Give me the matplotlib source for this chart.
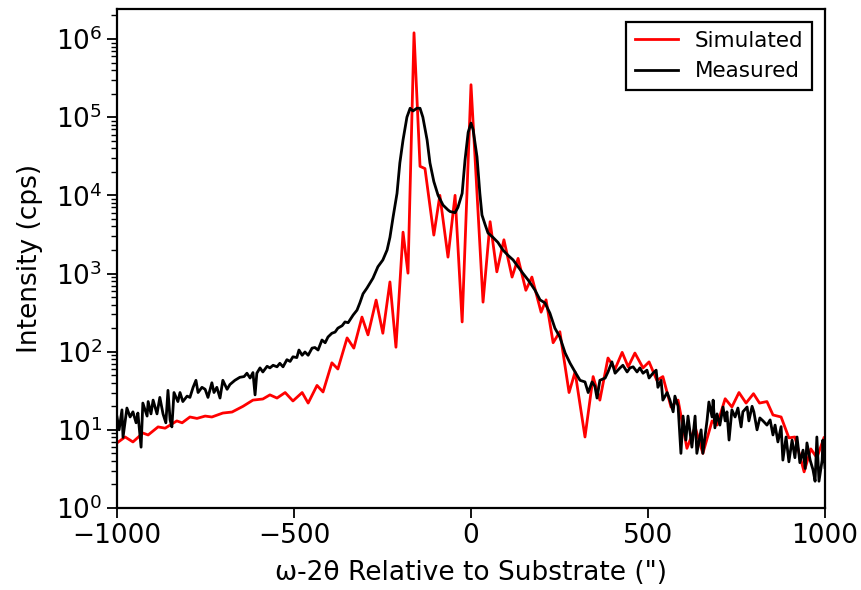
import matplotlib
matplotlib.use("Agg")
import matplotlib.pyplot as plt

# Simulated curve (arcsec, cps)
sim_x = [-1000, -977, -955, -927, -912, -884, -864, -831, -816, -794, -774,
         -751, -732, -701, -675, -644, -616, -588, -568, -548, -525, -503,
         -477, -460, -435, -418, -393, -376, -350, -331, -308, -291, -268,
         -249, -229, -212, -192, -178, -161, -144, -130, -105, -88, -65, -45,
         -25, 0, 34, 54, 73, 93, 116, 133, 155, 172, 198, 212, 232, 251, 277,
         294, 322, 345, 364, 387, 407, 427, 444, 463, 486, 503, 525, 542, 565,
         585, 610, 633, 655, 681, 695, 718, 737, 757, 777, 798, 815, 836, 853,
         876, 898, 915, 941, 960, 977, 997]
sim_y = [6.8, 8.1, 7.0, 9.1, 8.6, 10.9, 10.5, 13, 12.3, 14.6, 14,
         15, 14.6, 16.4, 16.9, 20, 24, 24.8, 28, 25.5, 30, 23.4,
         30, 22, 37, 30.5, 72, 60, 150, 111, 277, 164, 457,
         172, 780, 114, 3380, 1010, 1.2e6, 23500, 22000, 3100, 10000, 1620, 10000,
         240, 2.6e5, 430, 4600, 1050, 2700, 900, 1560, 610, 900, 320, 460, 130, 180, 30,
         55, 8.1, 48, 24, 83, 60, 98, 64, 96, 62, 74, 43, 48, 19.6,
         24, 5.8, 10.9, 5.0, 13, 11.5, 25, 19.6, 30, 22, 29, 22, 23, 15.5,
         14.6, 7.9, 8.1, 2.9, 5.7, 4.4, 7.9]

# Measured curve (arcsec, cps)
meas_x = [-1000, -994, -986, -983, -972, -963, -955, -946, -941, -932, -927,
          -915, -912, -904, -898, -887, -879, -870, -862, -856, -850, -845,
          -839, -828, -822, -814, -802, -794, -785, -777, -771, -760, -751,
          -743, -732, -726, -718, -709, -701, -689, -681, -667, -653, -641,
          -633, -624, -616, -610, -605, -596, -588, -576, -568, -559, -548,
          -540, -531, -520, -511, -503, -492, -486, -477, -469, -460, -449,
          -441, -432, -421, -412, -404, -393, -384, -376, -364, -356, -347,
          -333, -322, -314, -305, -294, -285, -277, -263, -249, -237, -229,
          -220, -209, -201, -192, -181, -172, -164, -153, -144, -136, -124,
          -116, -105, -93, -79, -65, -59, -45, -37, -25, -17, -8, 0, 6, 17,
          25, 31, 40, 48, 62, 76, 90, 105, 119, 133, 147, 161, 167, 181, 195,
          209, 223, 237, 251, 266, 280, 294, 308, 322, 331, 342, 350, 356,
          364, 379, 387, 398, 407, 415, 421, 429, 441, 449, 458, 469, 477,
          486, 497, 503, 514, 523, 528, 537, 542, 554, 562, 571, 576, 585,
          593, 599, 607, 613, 624, 633, 638, 650, 655, 667, 672, 681, 684,
          689, 695, 703, 712, 718, 723, 729, 737, 746, 754, 763, 768, 780,
          785, 794, 799, 808, 816, 825, 836, 845, 853, 859, 867, 876, 881,
          890, 898, 907, 915, 921, 929, 938, 944, 949, 958, 966, 972, 977,
          983, 992, 994, 1000]
meas_y = [14.6, 10, 18, 8, 19, 14.6, 17, 12.3, 16.4, 6.0, 22,
          15, 23, 16, 24, 16, 26, 16, 12.3, 32, 13.4, 10.9,
          30, 23, 30, 23, 27, 26, 35, 43, 30, 35, 33,
          26, 40, 30, 35, 25.5, 43, 33, 38, 43, 47, 48,
          53, 46, 54, 28, 53, 62, 55, 65, 62, 67, 64,
          71, 64, 79, 75, 86, 84, 105, 90, 99, 90, 111,
          113, 105, 141, 130, 154, 172, 178, 200, 215, 240, 235,
          294, 340, 420, 550, 650, 760, 870, 1220, 1490, 2000, 2900,
          5300, 10600, 26000, 51000, 1.0e5, 1.3e5, 1.2e5, 1.3e5, 1.3e5, 1.0e5, 51000,
          26000, 15000, 10000, 7500, 6500, 6200, 6000, 7000, 10600, 28000, 64000, 84000, 69000, 31000,
          10600, 5600, 4200, 3300, 2900, 2500, 2000, 1700, 1490, 1220, 1000, 830, 760, 610, 460,
          420, 310, 200, 154, 96, 71, 55, 43, 41, 30, 41, 36, 25.5,
          43, 46, 55, 74, 53, 58, 62, 67, 55, 62, 64, 55, 62,
          53, 58, 46, 53, 58, 35, 43, 24, 30, 24, 17, 27, 20,
          5.0, 15, 7.4, 15, 6.0, 15, 5.0, 10, 5.0, 13.4, 22.7, 14.6, 24,
          10.6, 16, 11.5, 19.6, 13, 17, 7.4, 18, 14.6, 19, 10.9, 17, 19.6,
          13, 20, 17, 10, 14.2, 13, 11.5, 13.4, 8.6, 11.5, 7.0, 11, 4.1,
          8.1, 3.9, 7.4, 4.4, 8.1, 3.8, 5.5, 3.2, 6.8, 4.1, 3.1, 2.2, 8.1,
          2.2, 4.1, 7.4, 3.3]

x_ticks = [-1000, -500, 0, 500, 1000]

fig = plt.figure(figsize=(8.61, 5.90), dpi=100)
ax = fig.add_axes([117 / 861, 1 - 508 / 590, 708 / 861, 499 / 590])

ax.plot(sim_x, sim_y, color="red", lw=2.0, label="Simulated")
ax.plot(meas_x, meas_y, color="black", lw=2.0, label="Measured")

ax.set_yscale("log")
ax.set_xlim(-1000, 1000)
ax.set_ylim(1, 2.42e6)
ax.set_xticks(x_ticks)

ax.set_xlabel("ω-2θ Relative to Substrate (\")", fontsize=19, labelpad=8)
ax.set_ylabel("Intensity (cps)", fontsize=19, labelpad=9)
ax.tick_params(axis="both", which="major", labelsize=19, length=7, width=1.3)
ax.tick_params(axis="y", which="minor", length=4, width=1.0)
for spine in ax.spines.values():
    spine.set_linewidth(1.6)

leg = ax.legend(loc="upper right", fontsize=15.5, fancybox=False,
                edgecolor="black", framealpha=1, borderaxespad=0.6)
leg.get_frame().set_linewidth(1.6)

plt.savefig("out.png", dpi=100)
plt.close(fig)
